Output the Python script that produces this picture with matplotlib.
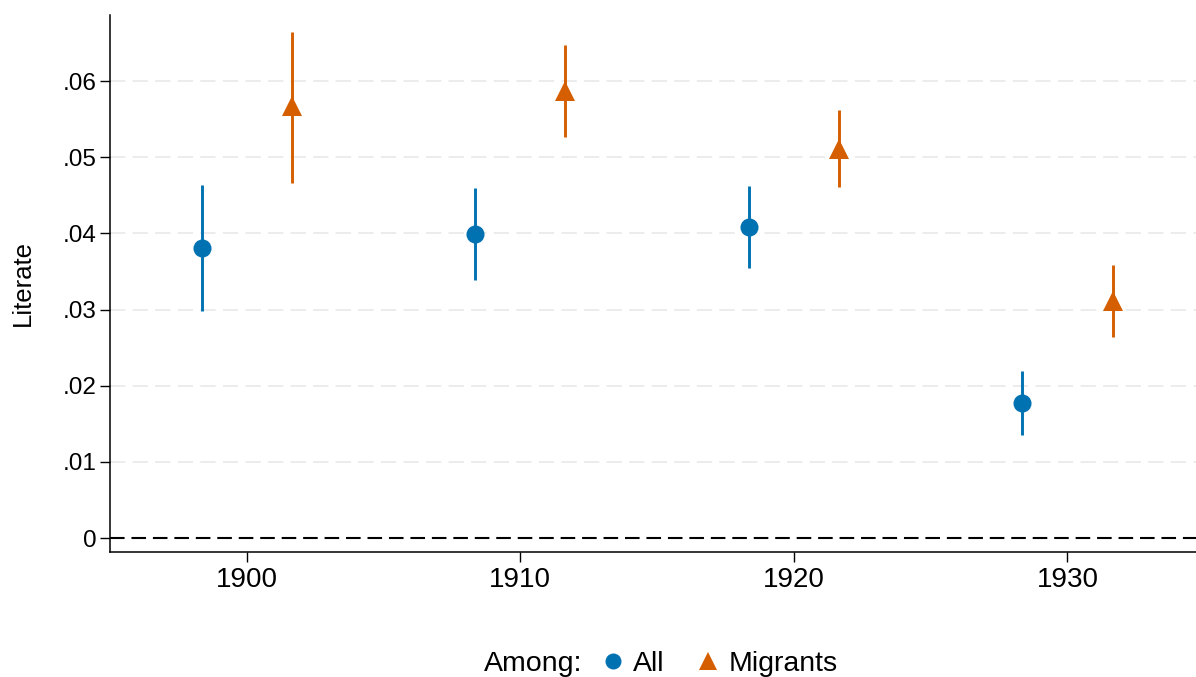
import matplotlib
matplotlib.use("Agg")
import matplotlib.pyplot as plt
import numpy as np
from matplotlib.lines import Line2D

plt.rcParams['font.family'] = ['Liberation Sans', 'DejaVu Sans']

years = [1900, 1910, 1920, 1930]

# coefficients and 95% CI bounds
all_est = [0.0381, 0.0399, 0.0408, 0.0177]
all_lo = [0.0298, 0.0339, 0.0354, 0.0135]
all_hi = [0.0464, 0.0460, 0.0462, 0.0219]

mig_est = [0.0567, 0.0587, 0.0511, 0.0311]
mig_lo = [0.0466, 0.0526, 0.0461, 0.0264]
mig_hi = [0.0665, 0.0647, 0.0562, 0.0358]

blue = "#0072B2"
orange = "#D55E00"

fig = plt.figure(figsize=(11.96, 6.77), dpi=100)
ax = fig.add_axes([0.092, 0.185, 0.908, 0.793])

x = np.array(years, dtype=float)
off = 1.65

for xs, est, lo, hi, col, mk, ms in [
    (x - off, all_est, all_lo, all_hi, blue, "o", 13),
    (x + off, mig_est, mig_lo, mig_hi, orange, "^", 14),
]:
    ax.vlines(xs, lo, hi, color=col, lw=2.1, zorder=3)
    ax.plot(xs, est, linestyle="none", marker=mk, ms=ms, color=col,
            markeredgewidth=0, zorder=4)

ax.axhline(0, color="black", lw=1.5, ls=(0, (7, 3.3)), zorder=2)

ax.set_xlim(1895, 1934.7)
ax.set_ylim(-0.0018, 0.0687)
ax.set_xticks(years)
ax.set_yticks([0, 0.01, 0.02, 0.03, 0.04, 0.05, 0.06])
ax.set_yticklabels(["0", ".01", ".02", ".03", ".04", ".05", ".06"])
ax.tick_params(axis="y", labelsize=17.5, length=7, width=1, pad=3)
ax.tick_params(axis="x", labelsize=20, length=7, width=1, pad=4)

for yv in [0.01, 0.02, 0.03, 0.04, 0.05, 0.06]:
    ax.axhline(yv, color="#ebebeb", lw=1.3, ls=(0, (8.5, 4)), zorder=1)

for s in ["top", "right"]:
    ax.spines[s].set_visible(False)
for s in ["left", "bottom"]:
    ax.spines[s].set_linewidth(1.1)

ax.set_ylabel("Literate", fontsize=18.5, labelpad=20)

fig.text(0.487, 0.019, "Among:", fontsize=20.5, ha="right", va="center")
handles = [
    Line2D([], [], linestyle="none", marker="o", ms=11.5, color=blue, markeredgewidth=0),
    Line2D([], [], linestyle="none", marker="^", ms=12.5, color=orange, markeredgewidth=0),
]
fig.legend(handles, ["All", "Migrants"], loc="center left", bbox_to_anchor=(0.503, 0.019),
           ncol=2, frameon=False, fontsize=20.5, handlelength=0.8, handletextpad=0.3,
           columnspacing=1.14, borderaxespad=0, borderpad=0)

fig.savefig("out.png", dpi=100)
